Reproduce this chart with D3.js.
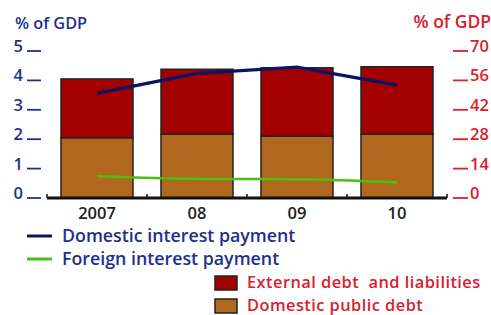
<!DOCTYPE html>
<html>
<head>
<meta charset="utf-8">
<script src="https://cdn.jsdelivr.net/npm/d3@7"></script>
<style>
  body { margin: 0; background: #fff; }
  svg { display: block; font-family: "Open Sans", sans-serif; }
</style>
</head>
<body>
<svg id="chart" width="491" height="315"></svg>
<script>
// data
const years = ["2007", "08", "09", "10"];
const domesticDebt = [28.7, 30.5, 29.5, 30.5];     // right axis, % of GDP
const externalDebt = [28.0, 30.8, 32.5, 32.0];     // right axis, % of GDP
const domesticInterest = [3.56, 4.24, 4.45, 3.84]; // left axis
const foreignInterest = [0.75, 0.65, 0.64, 0.53];  // left axis
const leftTicks = [0, 1, 2, 3, 4, 5];
const rightTicks = [0, 14, 28, 42, 56, 70];

const navy = "#22308c", red = "#d8202e";
const colBrown = "#b0681e", colRed = "#a30000";

const svg = d3.select("#chart");

// scales
const x = d3.scaleBand().domain(years).range([47, 447]).paddingInner(0.28).paddingOuter(0.14);
const yL = d3.scaleLinear().domain([0, 5]).range([198, 51]);
const yR = d3.scaleLinear().domain([0, 70]).range([198, 51]);

// stacked bars
const rows = years.map((y, i) => ({year: y, domestic: domesticDebt[i], external: externalDebt[i]}));
const stack = d3.stack().keys(["domestic", "external"])(rows);
const fills = {domestic: colBrown, external: colRed};

svg.append("g").selectAll("g")
  .data(stack).join("g")
    .attr("fill", d => fills[d.key])
  .selectAll("rect")
  .data(d => d).join("rect")
    .attr("x", d => x(d.data.year))
    .attr("width", x.bandwidth())
    .attr("y", d => yR(d[1]))
    .attr("height", d => yR(d[0]) - yR(d[1]))
    .attr("stroke", "#222")
    .attr("stroke-width", 1.5);

// x axis line with little ticks between bars
const xAxis = svg.append("g").attr("transform", "translate(0,198)");
xAxis.append("line").attr("x1", 47).attr("x2", 447).attr("stroke", "#111").attr("stroke-width", 3);
const sep = [47].concat(years.slice(1).map(y => x(y) - x.step() * x.paddingInner() / 2)).concat([447]);
xAxis.selectAll(".sep").data(sep).join("line")
  .attr("x1", d => d).attr("x2", d => d)
  .attr("y1", 0).attr("y2", -4)
  .attr("stroke", "#111").attr("stroke-width", 1.5);
xAxis.selectAll("text").data(years).join("text")
  .attr("x", d => x(d) + x.bandwidth() / 2)
  .attr("y", 21)
  .attr("text-anchor", "middle")
  .attr("fill", "#222")
  .style("font-size", "16.5px")
  .style("font-weight", 600)
  .text(d => d);

// left axis
const gl = svg.append("g");
gl.selectAll("line").data(leftTicks).join("line")
  .attr("x1", 27).attr("x2", 41)
  .attr("y1", d => yL(d)).attr("y2", d => yL(d))
  .attr("stroke", navy).attr("stroke-width", 1.8);
gl.selectAll("text").data(leftTicks).join("text")
  .attr("x", 23).attr("y", d => yL(d) + 1)
  .attr("text-anchor", "end")
  .attr("fill", navy)
  .style("font-size", "16.5px")
  .style("font-weight", 600)
  .text(d => d);

// right axis
const gr = svg.append("g");
gr.selectAll("line").data(rightTicks).join("line")
  .attr("x1", 453).attr("x2", 468)
  .attr("y1", d => yR(d)).attr("y2", d => yR(d))
  .attr("stroke", red).attr("stroke-width", 1.8);
gr.selectAll("text").data(rightTicks).join("text")
  .attr("x", 470).attr("y", d => yR(d) + 1)
  .attr("fill", red)
  .style("font-size", "16.5px")
  .style("font-weight", 600)
  .text(d => d);

// axis titles
svg.append("text").attr("x", 15).attr("y", 29).attr("fill", navy)
  .style("font-size", "16.3px").style("font-weight", 600).text("% of GDP");
svg.append("text").attr("x", 491).attr("y", 28).attr("text-anchor", "end").attr("fill", red)
  .style("font-size", "17.5px").style("font-weight", 600).text("% of GDP");

// lines
const cx = d => x(d) + x.bandwidth() / 2;
const line = d3.line().x(d => cx(d.year)).y(d => yL(d.v));
svg.append("path")
  .datum(years.map((y, i) => ({year: y, v: domesticInterest[i]})))
  .attr("d", line).attr("fill", "none")
  .attr("stroke", "#0c1466").attr("stroke-width", 3.2);
svg.append("path")
  .datum(years.map((y, i) => ({year: y, v: foreignInterest[i]})))
  .attr("d", d3.line().curve(d3.curveMonotoneX).x(d => cx(d.year)).y(d => yL(d.v)))
  .attr("fill", "none")
  .attr("stroke", "#4cbf10").attr("stroke-width", 2.6);

// legend: lines
const lineLegend = [
  {label: "Domestic interest payment", color: "#0c1466", y: 236},
  {label: "Foreign interest payment", color: "#4cbf10", y: 259}
];
const ll = svg.append("g").selectAll("g").data(lineLegend).join("g");
ll.append("line").attr("x1", 27).attr("x2", 52)
  .attr("y1", d => d.y).attr("y2", d => d.y)
  .attr("stroke", d => d.color).attr("stroke-width", 3);
ll.append("text").attr("x", 62).attr("y", d => d.y + 6)
  .attr("fill", navy).style("font-size", "17.8px").style("font-weight", 600)
  .text(d => d.label);

// legend: boxes
const boxLegend = [
  {label: "External debt  and liabilities", color: colRed, y: 276},
  {label: "Domestic public debt", color: colBrown, y: 299}
];
const bl = svg.append("g").selectAll("g").data(boxLegend).join("g");
bl.append("rect").attr("x", 215).attr("y", d => d.y)
  .attr("width", 22).attr("height", 14)
  .attr("fill", d => d.color).attr("stroke", "#222").attr("stroke-width", 1.5);
bl.append("text").attr("x", 247).attr("y", d => d.y + 12)
  .attr("fill", red).style("font-size", "16.4px").style("font-weight", 600)
  .style("letter-spacing", "0.45px")
  .style("white-space", "pre").attr("xml:space", "preserve")
  .text(d => d.label);
</script>
</body>
</html>
